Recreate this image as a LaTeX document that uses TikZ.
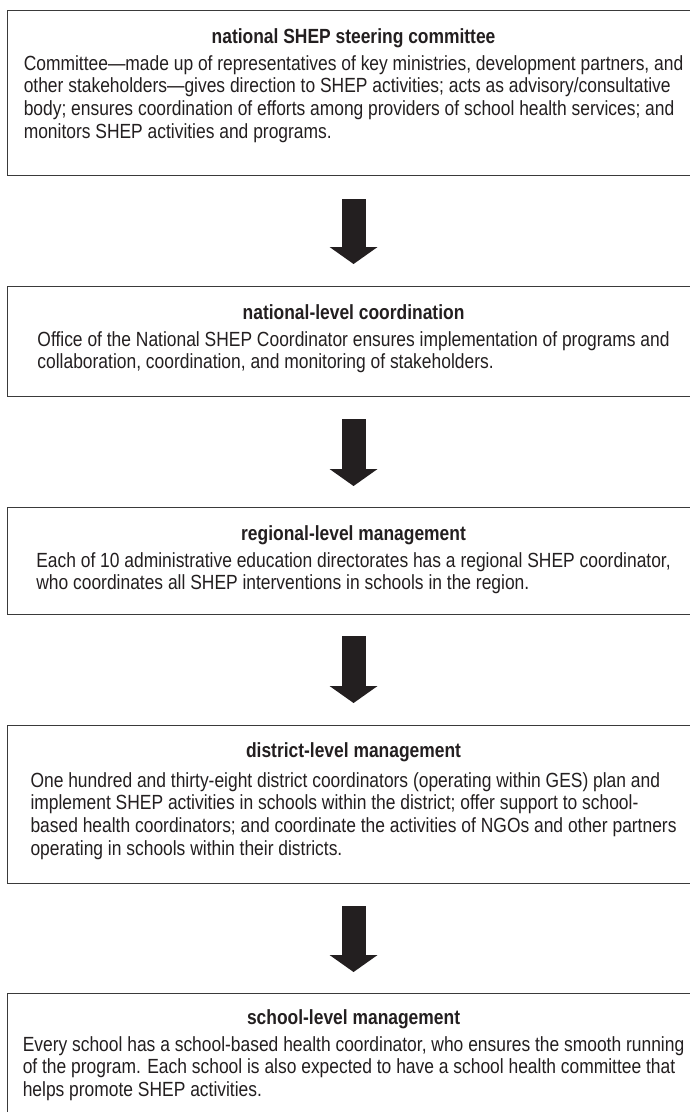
\documentclass[tikz,border=0pt]{standalone}
\usepackage{fontspec}
\setmainfont{Liberation Sans}[FakeStretch=0.85]
\usetikzlibrary{arrows.meta}
\definecolor{ink}{HTML}{231F20}
\definecolor{frame}{HTML}{3A3A3A}
\begin{document}
\begin{tikzpicture}[x=1pt,y=-1pt,
  panel/.style={draw=frame, line width=1.1pt, rectangle, inner sep=0pt,
    minimum width=692pt, anchor=north west},
  ttl/.style={font=\bfseries\fontsize{20.5}{22.7}\selectfont, text=ink, anchor=base, inner sep=0pt},
  bodytxt/.style={font=\fontsize{20.5}{22.7}\selectfont, text=ink, anchor=base, inner sep=0pt},
  flow/.style={draw=ink, line width=24pt, line cap=butt,
    -{Triangle[width=48pt,length=17pt,line width=0pt]}}]
\useasboundingbox (0,0) rectangle (690,1112);
\fill[white] (0,0) rectangle (690,1112);

\node[panel, minimum height=165pt] (b1) at (7,10) {};
\node[panel, minimum height=110pt] (b2) at (7,286) {};
\node[panel, minimum height=107pt] (b3) at (7,507) {};
\node[panel, minimum height=158pt] (b4) at (7,725) {};
\node[panel, minimum height=150pt] (b5) at (7,993) {};

\node[ttl] (h1) at ([yshift=-33pt]b1.north) {national SHEP steering committee};
\node[bodytxt] (p1) at ([yshift=-60pt]b1.north) {\begin{tabular}[t]{@{}l@{}}
Committee—made up of representatives of key ministries, development partners, and\\
other stakeholders—gives direction to SHEP activities; acts as advisory/consultative\\
body; ensures coordination of efforts among providers of school health services; and\\
monitors SHEP activities and programs.\end{tabular}};

\node[ttl] (h2) at ([yshift=-33pt]b2.north) {national-level coordination};
\node[bodytxt] (p2) at ([yshift=-60pt]b2.north) {\begin{tabular}[t]{@{}l@{}}
Office of the National SHEP Coordinator ensures implementation of programs and\\
collaboration, coordination, and monitoring of stakeholders.\end{tabular}};

\node[ttl] (h3) at ([yshift=-33pt]b3.north) {regional-level management};
\node[bodytxt] (p3) at ([yshift=-60pt]b3.north) {\begin{tabular}[t]{@{}l@{}}
Each of 10 administrative education directorates has a regional SHEP coordinator,\\
who coordinates all SHEP interventions in schools in the region.\end{tabular}};

\node[ttl] (h4) at ([yshift=-32pt]b4.north) {district-level management};
\node[bodytxt] (p4) at ([yshift=-62pt]b4.north) {\begin{tabular}[t]{@{}l@{}}
One hundred and thirty-eight district coordinators (operating within GES) plan and\\
implement SHEP activities in schools within the district; offer support to school-\\
based health coordinators; and coordinate the activities of NGOs and other partners\\
operating in schools within their districts.\end{tabular}};

\node[ttl] (h5) at ([yshift=-31pt]b5.north) {school-level management};
\node[bodytxt] (p5) at ([yshift=-58pt]b5.north) {\begin{tabular}[t]{@{}l@{}}
Every school has a school-based health coordinator, who ensures the smooth running\\
of the program. Each school is also expected to have a school health committee that\\
helps promote SHEP activities.\end{tabular}};

\draw[flow] ([yshift=-23pt]b1.south) -- ([yshift=22pt]b2.north);
\draw[flow] ([yshift=-22pt]b2.south) -- ([yshift=21pt]b3.north);
\draw[flow] ([yshift=-21pt]b3.south) -- ([yshift=22pt]b4.north);
\draw[flow] ([yshift=-22pt]b4.south) -- ([yshift=21pt]b5.north);
\end{tikzpicture}
\end{document}
